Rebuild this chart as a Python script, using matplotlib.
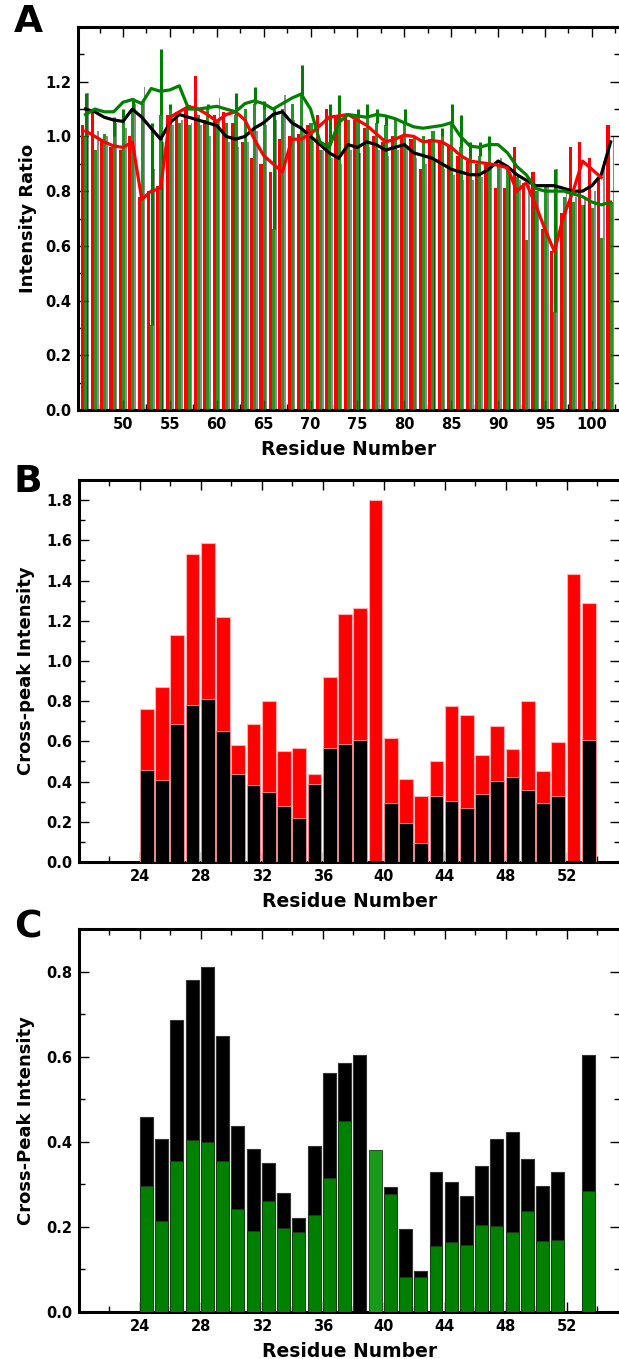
import numpy as np
import matplotlib
matplotlib.use("Agg")
import matplotlib.pyplot as plt
from matplotlib.ticker import MultipleLocator, FixedLocator

plt.rcParams['font.family'] = ['DejaVu Sans']
plt.rcParams['font.weight'] = 'bold'

# ---------------- Panel A data ----------------
resA = list(range(46, 103))
black_bar = [1.16, 1.02, 1.00, 1.05, 1.03, 1.12, 1.18, 0.88, 0.98, 1.04,
             1.06, 1.05, 1.04, 1.00, 1.14, 0.98, 0.96, 0.98, 1.02, 1.04,
             1.06, 1.15, 1.06, 1.02, 0.98, 0.95, 0.92, 0.90, 0.95, 0.94,
             0.96, 0.95, 0.93, 0.95, 0.96, 0.92, 0.90, 0.91, 0.88, 0.86,
             0.84, 0.84, 0.85, 0.90, 0.92, 0.86, 0.84, 0.83, 0.80, 0.82,
             0.88, 0.80, 0.78, 0.78, 0.80, 0.91, 1.00]
red_bar = [1.04, 1.10, 0.99, 0.96, 0.95, 1.00, 0.78, 0.80, 0.82, 1.08,
           1.09, 1.10, 1.22, 1.06, 1.08, 1.09, 1.05, 0.98, 0.92, 0.90,
           0.87, 0.99, 1.00, 1.01, 1.04, 1.08, 1.10, 1.07, 1.08, 1.06,
           1.03, 1.00, 0.98, 1.00, 1.00, 0.99, 0.88, 0.99, 0.98, 0.96,
           0.93, 0.91, 0.90, 0.90, 0.81, 0.81, 0.96, 0.83, 0.87, 0.66,
           0.58, 0.72, 0.96, 0.98, 0.92, 0.85, 1.04]
green_bar = [1.00, 0.95, 1.01, 1.00, 1.05, 1.10, 1.12, 0.31, 1.08, 1.10,
             1.05, 1.04, 1.08, 1.10, 1.06, 1.05, 1.08, 1.10, 1.12, 1.10,
             0.66, 1.10, 1.12, 1.15, 1.05, 0.95, 0.98, 1.04, 1.06, 1.08,
             1.07, 1.05, 1.04, 1.06, 1.05, 1.00, 1.00, 1.02, 1.00, 1.04,
             0.96, 0.92, 0.93, 0.95, 0.90, 0.88, 0.85, 0.62, 0.80, 0.82,
             0.36, 0.78, 0.76, 0.75, 0.74, 0.63, 0.76]
# whisker tops for green bars (0 = none)
green_whisk = [1.16, 0, 0, 1.07, 1.10, 1.14, 0, 1.05, 1.32, 1.12,
               0, 0, 0, 1.12, 0, 0, 1.16, 0, 1.18, 1.13,
               1.10, 0, 0, 1.26, 0, 0, 1.12, 1.15, 0, 1.10,
               1.12, 1.10, 1.08, 0, 1.10, 0, 0, 0, 1.03, 1.12,
               1.08, 0.98, 0.98, 1.00, 0, 0, 0, 0, 0, 0,
               0.88, 0, 0, 0, 0, 0, 0]
black_line = [1.10, 1.09, 1.07, 1.06, 1.055, 1.10, 1.07, 1.03, 0.99, 1.05,
              1.08, 1.07, 1.06, 1.05, 1.04, 1.00, 0.99, 1.00, 1.03, 1.05,
              1.08, 1.09, 1.05, 1.03, 1.00, 0.97, 0.94, 0.92, 0.97, 0.96,
              0.98, 0.97, 0.95, 0.96, 0.97, 0.94, 0.93, 0.92, 0.90, 0.88,
              0.87, 0.86, 0.86, 0.88, 0.91, 0.89, 0.86, 0.84, 0.82, 0.82,
              0.82, 0.81, 0.80, 0.80, 0.82, 0.86, 0.98]
red_line = [1.02, 1.00, 0.98, 0.965, 0.96, 0.98, 0.77, 0.80, 0.81, 1.07,
            1.09, 1.11, 1.10, 1.08, 1.055, 1.08, 1.09, 1.06, 0.99, 0.93,
            0.90, 0.87, 0.99, 0.99, 1.01, 1.04, 1.07, 1.075, 1.08, 1.06,
            1.04, 1.01, 0.98, 0.99, 1.005, 1.00, 0.98, 0.985, 0.98, 0.96,
            0.93, 0.91, 0.905, 0.90, 0.895, 0.885, 0.80, 0.83, 0.75, 0.66,
            0.58, 0.71, 0.80, 0.91, 0.88, 0.85]
green_line = [1.08, 1.10, 1.09, 1.09, 1.125, 1.135, 1.12, 1.175, 1.165, 1.17,
              1.185, 1.10, 1.10, 1.105, 1.11, 1.10, 1.09, 1.12, 1.13, 1.12,
              1.10, 1.12, 1.14, 1.155, 1.10, 0.98, 0.96, 1.05, 1.08, 1.075,
              1.07, 1.08, 1.075, 1.065, 1.05, 1.035, 1.03, 1.035, 1.04, 1.05,
              1.00, 0.965, 0.96, 0.97, 0.97, 0.94, 0.89, 0.86, 0.81, 0.80,
              0.80, 0.80, 0.79, 0.78, 0.76, 0.75, 0.76]

# ---------------- Panel B / C data ----------------
resBC = list(range(24, 54))
B_red = [0.76, 0.87, 1.13, 1.53, 1.585, 1.22, 0.58, 0.685, 0.80, 0.55,
         0.565, 0.44, 0.92, 1.235, 1.265, 1.80, 0.615, 0.415, 0.33, 0.50,
         0.775, 0.73, 0.53, 0.675, 0.56, 0.80, 0.455, 0.595, 1.43, 1.29]
B_black = [0.46, 0.41, 0.685, 0.78, 0.81, 0.65, 0.44, 0.385, 0.35, 0.28,
           0.22, 0.39, 0.565, 0.585, 0.605, 0.0, 0.295, 0.195, 0.095, 0.33,
           0.305, 0.27, 0.34, 0.405, 0.425, 0.36, 0.295, 0.33, 0.0, 0.605]
C_black = [0.459, 0.407, 0.685, 0.78, 0.81, 0.648, 0.436, 0.384, 0.351, 0.28,
           0.22, 0.39, 0.562, 0.585, 0.604, 0.0, 0.293, 0.195, 0.097, 0.329,
           0.306, 0.273, 0.343, 0.406, 0.424, 0.36, 0.296, 0.329, 0.0, 0.605]
C_green = [0.296, 0.213, 0.354, 0.405, 0.40, 0.354, 0.241, 0.19, 0.262, 0.197,
           0.187, 0.227, 0.316, 0.448, 0.0, 0.381, 0.277, 0.083, 0.082, 0.155,
           0.165, 0.157, 0.204, 0.202, 0.187, 0.237, 0.167, 0.169, 0.0, 0.285]

W, H = 619, 1359
fig = plt.figure(figsize=(W / 100, H / 100), dpi=100)

def px_axes(left, top, right, bottom):
    return fig.add_axes([left / W, 1 - bottom / H, (right - left) / W, (bottom - top) / H])

GREEN = '#008000'
RED = '#ff0000'

def style(ax):
    for s in ax.spines.values():
        s.set_linewidth(2.2)
    ax.tick_params(which='both', direction='in', top=True, right=True, width=1.0)
    ax.tick_params(which='major', length=7, labelsize=10.5, pad=5)
    ax.tick_params(which='minor', length=4)
    for lab in ax.get_xticklabels() + ax.get_yticklabels():
        lab.set_fontweight('bold')

def nz(xs, vals):
    pairs = [(a, v) for a, v in zip(xs, vals) if v > 0]
    return [p[0] for p in pairs], [p[1] for p in pairs]

# ---------------- Panel A ----------------
axA = px_axes(78, 27, 620, 410)
x = np.array(resA, dtype=float)
axA.bar(x - 0.28, red_bar, width=0.34, color=RED, linewidth=0, zorder=2)
axA.bar(x + 0.05, green_bar, width=0.34, color=GREEN, alpha=0.85, linewidth=0, zorder=3)
axA.bar(x + 0.30, black_bar, width=0.18, color='black', alpha=0.45, linewidth=0, zorder=3)
gw = np.array(green_whisk)
gb = np.array(green_bar)
m = gw > 0
axA.vlines(x[m] + 0.05, gb[m], gw[m], color=GREEN, lw=2.2, zorder=4)
axA.plot(resA, black_line, color='black', lw=2.3, zorder=5)
axA.plot(resA[:len(red_line)], red_line, color=RED, lw=2.3, zorder=5)
axA.plot(resA, green_line, color=GREEN, lw=2.3, zorder=5)
axA.set_xlim(45.2, 103.0)
axA.set_ylim(0, 1.4)
axA.xaxis.set_major_locator(FixedLocator(list(range(50, 101, 5))))
axA.xaxis.set_minor_locator(MultipleLocator(2.5))
axA.yaxis.set_major_locator(FixedLocator([0, 0.2, 0.4, 0.6, 0.8, 1.0, 1.2]))
axA.yaxis.set_minor_locator(MultipleLocator(0.1))
axA.set_xlabel('Residue Number', fontsize=13.5, fontweight='bold', labelpad=6)
axA.set_ylabel('Intensity Ratio', fontsize=13, fontweight='bold', labelpad=6)
style(axA)

# ---------------- Panel B ----------------
axB = px_axes(79, 480, 620, 862)
bx, bv = nz(resBC, B_red)
axB.bar(bx, bv, width=0.9, align='edge', color=RED, edgecolor='#ffb0b0', linewidth=0.8, zorder=2)
bx, bv = nz(resBC, B_black)
axB.bar(bx, bv, width=0.9, align='edge', color='black', edgecolor='#ff9090', linewidth=0.6, zorder=3)
axB.set_xlim(20, 55.5)
axB.set_ylim(0, 1.9)
axB.xaxis.set_major_locator(FixedLocator(list(range(24, 53, 4))))
axB.xaxis.set_minor_locator(MultipleLocator(2))
axB.yaxis.set_major_locator(MultipleLocator(0.2))
axB.yaxis.set_minor_locator(MultipleLocator(0.1))
axB.set_xlabel('Residue Number', fontsize=13.5, fontweight='bold', labelpad=6)
axB.set_ylabel('Cross-peak Intensity', fontsize=13, fontweight='bold', labelpad=8)
style(axB)

# ---------------- Panel C ----------------
axC = px_axes(79, 929, 620, 1312)
cx, cv = nz(resBC, C_black)
axC.bar(cx, cv, width=0.85, align='edge', color='black', edgecolor='#333333', linewidth=0.8, zorder=2)
gx, gv = nz(resBC, C_green)
cg_colors = ['#1a9a1a' if (r == 39) else GREEN for r in gx]
axC.bar(gx, gv, width=0.85, align='edge', color=cg_colors, edgecolor='#1a3a1a', linewidth=0.6, zorder=3)
axC.set_xlim(20, 55.5)
axC.set_ylim(0, 0.9)
axC.xaxis.set_major_locator(FixedLocator(list(range(24, 53, 4))))
axC.xaxis.set_minor_locator(MultipleLocator(2))
axC.yaxis.set_major_locator(MultipleLocator(0.2))
axC.yaxis.set_minor_locator(MultipleLocator(0.1))
axC.set_xlabel('Residue Number', fontsize=13.5, fontweight='bold', labelpad=6)
axC.set_ylabel('Cross-Peak Intensity', fontsize=13, fontweight='bold', labelpad=8)
style(axC)

for lab, yy in (('A', 22), ('B', 482), ('C', 928)):
    fig.text(28 / W, 1 - yy / H, lab, fontsize=27, fontweight='bold', ha='center', va='center')

fig.savefig('out.png', dpi=100)
